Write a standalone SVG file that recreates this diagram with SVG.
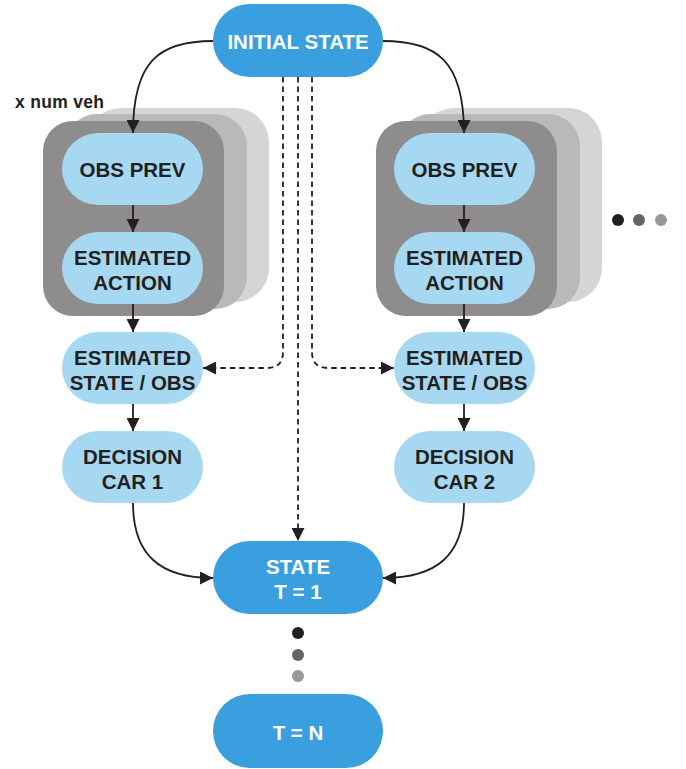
<svg xmlns="http://www.w3.org/2000/svg" width="686" height="769" viewBox="0 0 686 769">
<style>
.dark{fill:#8e8c8d}
.mid{fill:#b9b9b9}
.light{fill:#d5d5d5}
.pale{fill:#a6d8f2}
.blue{fill:#3a9fdf}
.t{font-family:"Liberation Sans",Arial,sans-serif;font-weight:bold;font-size:20.5px;text-anchor:middle}
.tw{fill:#ffffff}
.tk{fill:#231f20}
.line{fill:none;stroke:#231f20;stroke-width:1.8}
.dash{fill:none;stroke:#231f20;stroke-width:1.8;stroke-dasharray:5.5 4}
</style>
<defs>
<marker id="ah" markerUnits="userSpaceOnUse" markerWidth="13" markerHeight="13" viewBox="0 0 13 13" refX="13" refY="6.5" orient="auto">
<path d="M0,0 L13,6.5 L0,13 Z" fill="#231f20"/>
</marker>
</defs>
<rect width="686" height="769" fill="#ffffff"/>

<g id="stack-left">
<rect class="light" x="87" y="108" width="182" height="194" rx="34"/>
<rect class="mid" x="65" y="114" width="182" height="195" rx="32"/>
<rect class="dark" x="43" y="121" width="181" height="195" rx="30"/>
</g>
<g id="stack-right">
<rect class="light" x="420" y="108" width="182" height="194" rx="34"/>
<rect class="mid" x="398" y="114" width="182" height="195" rx="32"/>
<rect class="dark" x="376" y="121" width="181" height="195" rx="30"/>
</g>

<g id="label-numveh">
<text x="15" y="108" font-family="Liberation Sans,Arial,sans-serif" font-weight="bold" font-size="17.5" letter-spacing="0.3" fill="#231f20">x num veh</text>
</g>

<g id="connectors">
<path class="line" d="M213,41 C160,41 133,60 133,133" marker-end="url(#ah)"/>
<path class="line" d="M383,41 C436,41 464,60 464,133" marker-end="url(#ah)"/>
<path class="line" d="M133,205 V232" marker-end="url(#ah)"/>
<path class="line" d="M464,205 V232" marker-end="url(#ah)"/>
<path class="line" d="M133,304 V332" marker-end="url(#ah)"/>
<path class="line" d="M464,304 V332" marker-end="url(#ah)"/>
<path class="line" d="M133,404 V431" marker-end="url(#ah)"/>
<path class="line" d="M464,404 V431" marker-end="url(#ah)"/>
<path class="line" d="M133,503 C133,555 160,578 213,578" marker-end="url(#ah)"/>
<path class="line" d="M464,503 C464,555 437,578 383,578" marker-end="url(#ah)"/>
<path class="dash" d="M283,77 V352 Q283,368 267,368 H203" marker-end="url(#ah)"/>
<path class="dash" d="M298,77 V541" marker-end="url(#ah)"/>
<path class="dash" d="M312,77 V352 Q312,368 328,368 H394" marker-end="url(#ah)"/>
</g>

<g id="initial-state">
<rect class="blue" x="213" y="4" width="170" height="73" rx="36.5"/>
<text class="t tw" x="298" y="49">INITIAL STATE</text>
</g>

<g id="obs-prev-1">
<rect class="pale" x="62" y="133" width="141" height="72" rx="36"/>
<text class="t tk" x="132.5" y="177">OBS PREV</text>
</g>
<g id="est-action-1">
<rect class="pale" x="62" y="232" width="141" height="72" rx="36"/>
<text class="t tk" x="132.5" y="265">ESTIMATED</text>
<text class="t tk" x="132.5" y="290">ACTION</text>
</g>
<g id="est-state-1">
<rect class="pale" x="62" y="332" width="141" height="72" rx="36"/>
<text class="t tk" x="132.5" y="365">ESTIMATED</text>
<text class="t tk" x="132.5" y="390">STATE / OBS</text>
</g>
<g id="decision-1">
<rect class="pale" x="62" y="431" width="141" height="72" rx="36"/>
<text class="t tk" x="132.5" y="464">DECISION</text>
<text class="t tk" x="132.5" y="489">CAR 1</text>
</g>

<g id="obs-prev-2">
<rect class="pale" x="394" y="133" width="141" height="72" rx="36"/>
<text class="t tk" x="464.5" y="177">OBS PREV</text>
</g>
<g id="est-action-2">
<rect class="pale" x="394" y="232" width="141" height="72" rx="36"/>
<text class="t tk" x="464.5" y="265">ESTIMATED</text>
<text class="t tk" x="464.5" y="290">ACTION</text>
</g>
<g id="est-state-2">
<rect class="pale" x="394" y="332" width="141" height="72" rx="36"/>
<text class="t tk" x="464.5" y="365">ESTIMATED</text>
<text class="t tk" x="464.5" y="390">STATE / OBS</text>
</g>
<g id="decision-2">
<rect class="pale" x="394" y="431" width="141" height="72" rx="36"/>
<text class="t tk" x="464.5" y="464">DECISION</text>
<text class="t tk" x="464.5" y="489">CAR 2</text>
</g>

<g id="state-t1">
<rect class="blue" x="213" y="541" width="170" height="73" rx="36.5"/>
<text class="t tw" x="298" y="574">STATE</text>
<text class="t tw" x="298" y="599">T = 1</text>
</g>
<g id="state-tn">
<rect class="blue" x="213" y="694" width="170" height="74" rx="37"/>
<text class="t tw" x="298" y="740">T = N</text>
</g>

<g id="dots-vertical">
<circle cx="298" cy="633" r="6" fill="#231f20"/>
<circle cx="298" cy="655" r="6" fill="#666666"/>
<circle cx="298" cy="676" r="6" fill="#999999"/>
</g>
<g id="dots-horizontal">
<circle cx="618" cy="220" r="6" fill="#231f20"/>
<circle cx="639" cy="220" r="6" fill="#666666"/>
<circle cx="661" cy="220" r="6" fill="#999999"/>
</g>
</svg>
